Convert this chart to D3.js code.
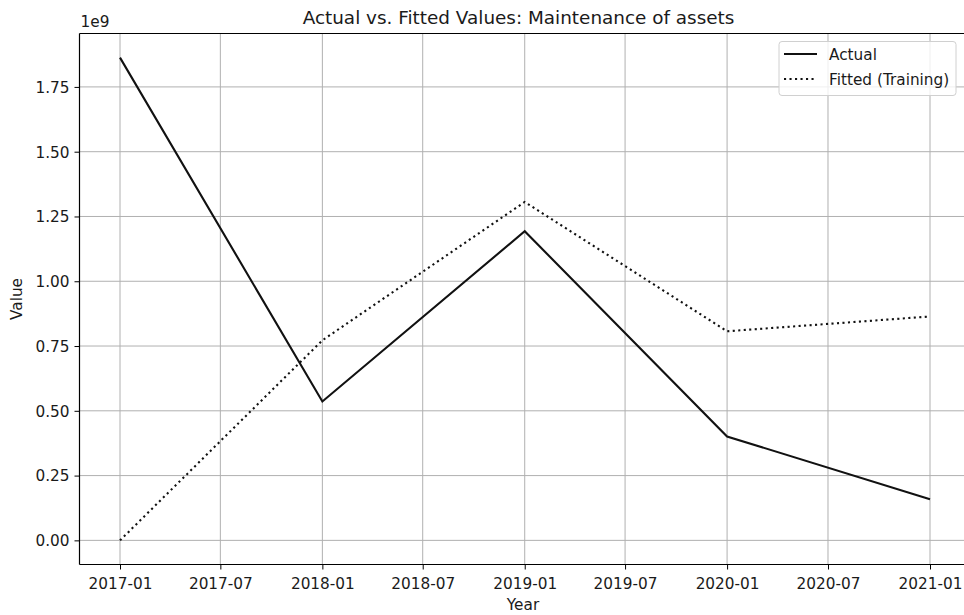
<!DOCTYPE html>
<html>
<head>
<meta charset="utf-8">
<script src="https://cdn.jsdelivr.net/npm/d3@7"></script>
<style>
  html, body { margin: 0; padding: 0; background: #fff; }
  svg { display: block; font-family: "DejaVu Sans", sans-serif; }
</style>
</head>
<body>
<svg id="chart" width="964" height="615"></svg>
<script>
// Yearly observations (values in units of 1e9)
const years = ["2017-01-01", "2018-01-01", "2019-01-01", "2020-01-01", "2021-01-01"];
const actualValues = [1.863, 0.536, 1.193, 0.401, 0.159];
const fittedValues = [0.0, 0.772, 1.306, 0.807, 0.864];
const xTickLabels = ["2017-01", "2017-07", "2018-01", "2018-07", "2019-01", "2019-07", "2020-01", "2020-07", "2021-01"];
const yTickValues = [0, 0.25, 0.5, 0.75, 1.0, 1.25, 1.5, 1.75];

const parse = d3.utcParse("%Y-%m-%d");
const parseTick = d3.utcParse("%Y-%m");
const dates = years.map(parse);

const svg = d3.select("#chart");
const plotLeft = 79.5, plotRight = 970.5, plotTop = 33.5, plotBottom = 564.5;
const tickFont = 15.3, titleFont = 18.4;

// Padded domains (5% margin on each side of the data range)
const xMin = dates[0], xMax = dates[dates.length - 1];
const xPad = (xMax - xMin) * 0.05;
const x = d3.scaleUtc()
  .domain([new Date(+xMin - xPad), new Date(+xMax + xPad)])
  .range([plotLeft, plotRight]);

const allVals = actualValues.concat(fittedValues);
const yLo = d3.min(allVals), yHi = d3.max(allVals);
const yPad = (yHi - yLo) * 0.05;
const y = d3.scaleLinear()
  .domain([yLo - yPad, yHi + yPad])
  .range([plotBottom, plotTop]);

const xTicks = xTickLabels.map(parseTick);

// Grid
const grid = svg.append("g");
grid.selectAll("line.gx").data(xTicks).join("line")
  .attr("x1", d => x(d)).attr("x2", d => x(d))
  .attr("y1", plotTop).attr("y2", plotBottom)
  .attr("stroke", "#b0b0b0").attr("stroke-width", 1);
grid.selectAll("line.gy").data(yTickValues).join("line")
  .attr("x1", plotLeft).attr("x2", plotRight)
  .attr("y1", d => y(d)).attr("y2", d => y(d))
  .attr("stroke", "#b0b0b0").attr("stroke-width", 1);

// Axes
const xAxis = d3.axisBottom(x)
  .tickValues(xTicks)
  .tickFormat((d, i) => xTickLabels[i])
  .tickSize(5).tickPadding(5);
const yAxis = d3.axisLeft(y)
  .tickValues(yTickValues)
  .tickFormat(d3.format(".2f"))
  .tickSize(5).tickPadding(5);

const gx = svg.append("g").attr("transform", `translate(0,${plotBottom})`).call(xAxis);
const gy = svg.append("g").attr("transform", `translate(${plotLeft},0)`).call(yAxis);
[gx, gy].forEach(g => {
  g.select(".domain").remove();
  g.selectAll(".tick line").attr("stroke", "#000").attr("stroke-width", 1);
  g.selectAll(".tick text")
    .attr("fill", "#1a1a1a")
    .style("font-family", "DejaVu Sans, sans-serif")
    .style("font-size", tickFont + "px");
});
gx.selectAll(".tick text").attr("dy", "0.95em");
gy.selectAll(".tick text").attr("dy", "0.35em");

// Spines (left, top, bottom)
svg.append("line").attr("x1", plotLeft).attr("x2", plotLeft).attr("y1", plotTop).attr("y2", plotBottom)
  .attr("stroke", "#000").attr("stroke-width", 1.2);
svg.append("line").attr("x1", plotLeft).attr("x2", plotRight).attr("y1", plotTop).attr("y2", plotTop)
  .attr("stroke", "#000").attr("stroke-width", 1.2);
svg.append("line").attr("x1", plotLeft).attr("x2", plotRight).attr("y1", plotBottom).attr("y2", plotBottom)
  .attr("stroke", "#000").attr("stroke-width", 1.2);

// Series lines
const line = d3.line().x(d => x(d[0])).y(d => y(d[1]));
svg.append("path")
  .datum(dates.map((d, i) => [d, fittedValues[i]]))
  .attr("d", line)
  .attr("fill", "none").attr("stroke", "#111")
  .attr("stroke-width", 2.1)
  .attr("stroke-dasharray", "2.1,3.4");
svg.append("path")
  .datum(dates.map((d, i) => [d, actualValues[i]]))
  .attr("d", line)
  .attr("fill", "none").attr("stroke", "#111")
  .attr("stroke-width", 2.1);

// Offset label
svg.append("text").attr("x", plotLeft + 1).attr("y", 27)
  .attr("font-size", tickFont).attr("fill", "#1a1a1a").text("1e9");

// Title and axis labels
svg.append("text").attr("x", 518.5).attr("y", 24)
  .attr("text-anchor", "middle").attr("font-size", titleFont).attr("fill", "#1a1a1a")
  .text("Actual vs. Fitted Values: Maintenance of assets");
svg.append("text").attr("x", 523).attr("y", 610)
  .attr("text-anchor", "middle").attr("font-size", tickFont).attr("fill", "#1a1a1a")
  .text("Year");
svg.append("text")
  .attr("transform", `translate(22,${(plotTop + plotBottom) / 2}) rotate(-90)`)
  .attr("text-anchor", "middle").attr("font-size", tickFont).attr("fill", "#1a1a1a")
  .text("Value");

// Legend
const legend = svg.append("g");
legend.append("rect")
  .attr("x", 779).attr("y", 41.5).attr("width", 177).attr("height", 54).attr("rx", 3)
  .attr("fill", "#fff").attr("fill-opacity", 0.8)
  .attr("stroke", "#d0d0d0").attr("stroke-width", 1);
const legendItems = [
  { label: "Actual", dash: null, yPos: 54 },
  { label: "Fitted (Training)", dash: "2.1,3.4", yPos: 79 }
];
legendItems.forEach(item => {
  const l = legend.append("line")
    .attr("x1", 784).attr("x2", 817).attr("y1", item.yPos).attr("y2", item.yPos)
    .attr("stroke", "#111").attr("stroke-width", 2.1);
  if (item.dash) l.attr("stroke-dasharray", item.dash);
  legend.append("text").attr("x", 829).attr("y", item.yPos + 5.5)
    .attr("font-size", tickFont).attr("fill", "#1a1a1a").text(item.label);
});
</script>
</body>
</html>
